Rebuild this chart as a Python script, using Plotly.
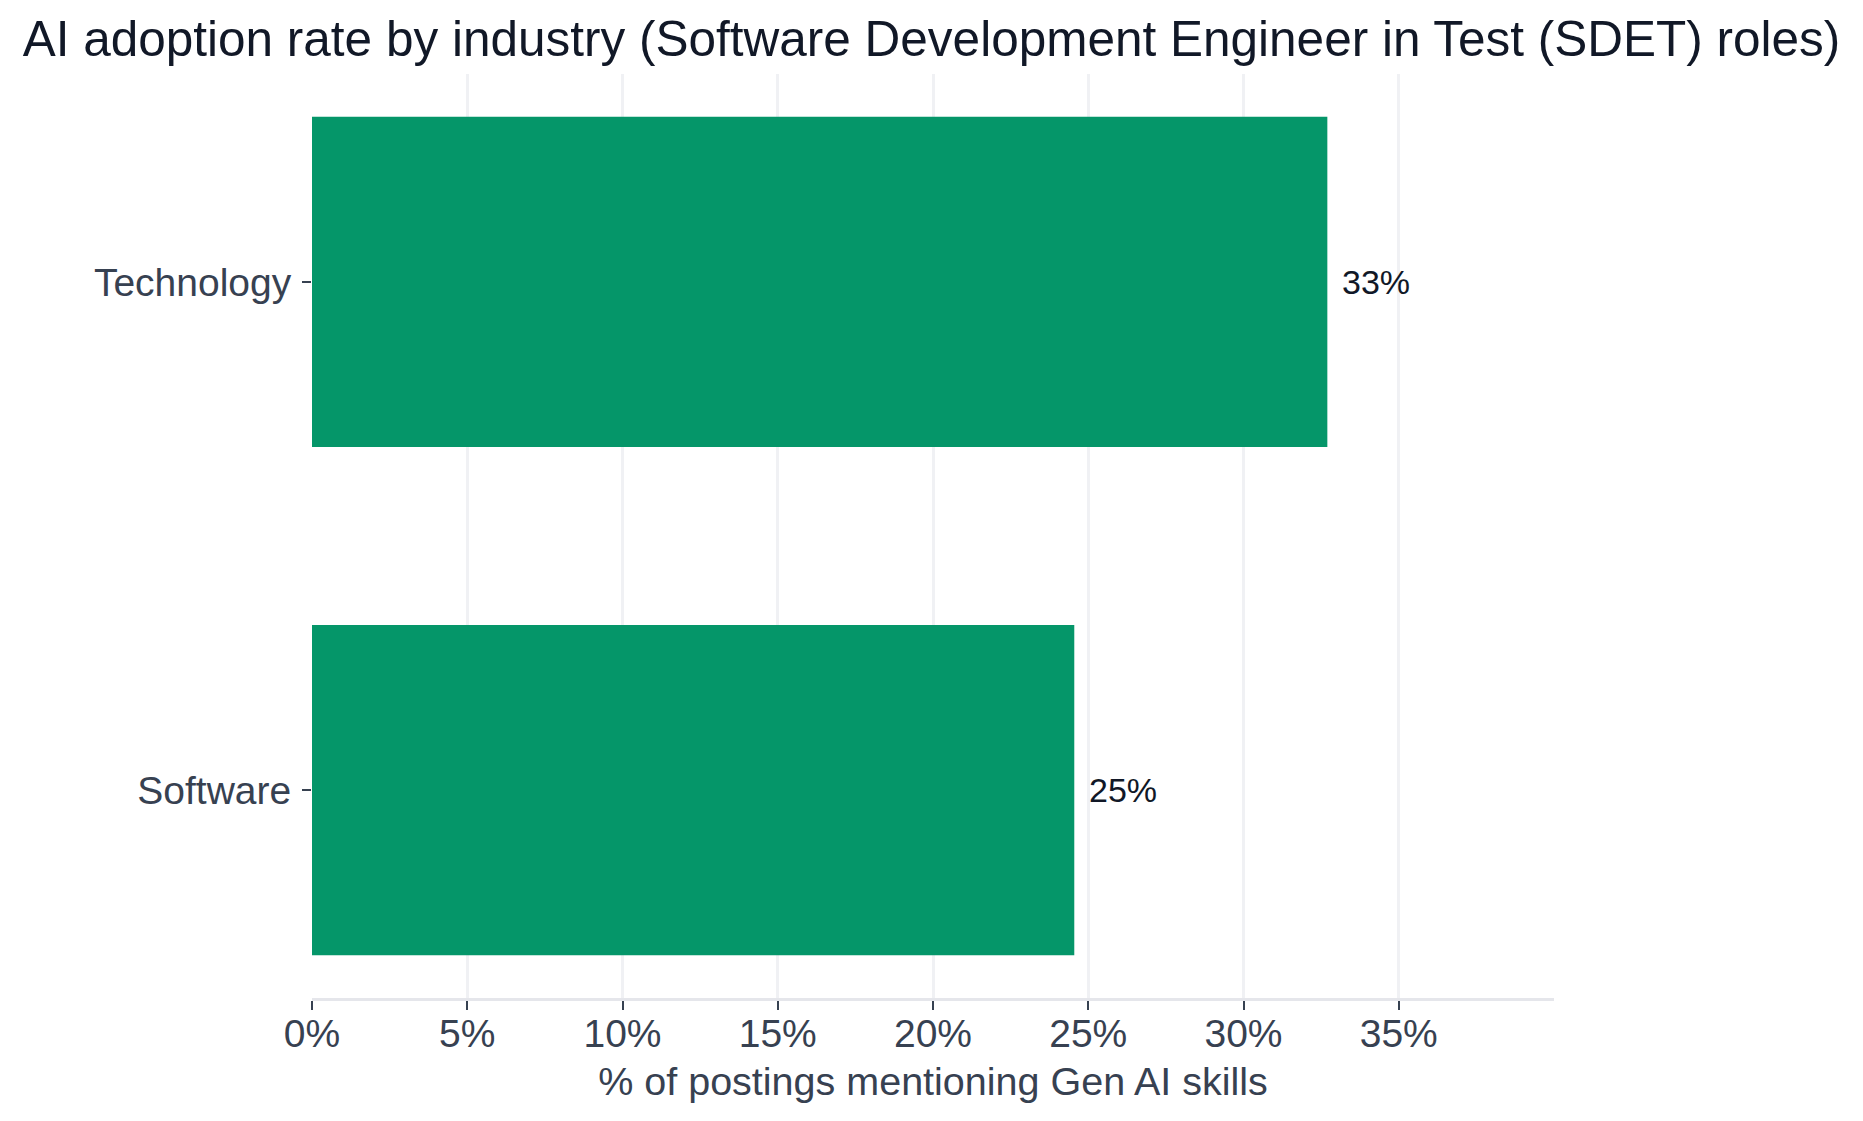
import plotly.graph_objects as go

# Data
industries = ["Software", "Technology"]
adoption_pct = [24.55, 32.7]
value_labels = ["25%", "33%"]
tick_values = [0, 5, 10, 15, 20, 25, 30, 35]
tick_labels = ["0%", "5%", "10%", "15%", "20%", "25%", "30%", "35%"]

FONT = "Liberation Sans, Arial, Helvetica, sans-serif"
BAR_COLOR = "#059669"

fig = go.Figure()
fig.add_trace(go.Bar(
    x=adoption_pct,
    y=industries,
    orientation="h",
    marker=dict(color=BAR_COLOR, line=dict(width=0)),
    hoverinfo="skip",
))

for v, lab, cat in zip(adoption_pct, value_labels, industries):
    fig.add_annotation(
        x=v, y=cat, xref="x", yref="y",
        text=lab, showarrow=False,
        xanchor="left", yanchor="middle", xshift=13,
        font=dict(family=FONT, size=34, color="#111827"),
    )

fig.update_layout(
    width=1863, height=1121,
    margin=dict(l=312, r=309, t=74, b=123),
    paper_bgcolor="white",
    plot_bgcolor="white",
    bargap=0.35,
    showlegend=False,
    title=dict(
        text="AI adoption rate by industry (Software Development Engineer in Test (SDET) roles)",
        x=0.5, xanchor="center", xref="container",
        y=0.981, yanchor="top", yref="container",
        font=dict(family=FONT, size=49.5, color="#111827"),
    ),
    xaxis=dict(
        range=[0, 40.0],
        tickvals=tick_values,
        ticktext=tick_labels,
        showgrid=True, gridcolor="#f0f1f4", gridwidth=2.5,
        zeroline=False,
        showline=True, linecolor="#e5e6eb", linewidth=3,
        ticks="outside", ticklen=9, tickwidth=2, tickcolor="#374151",
        ticklabelstandoff=-10,
        tickfont=dict(family=FONT, size=39, color="#374151"),
        title=dict(text="% of postings mentioning Gen AI skills",
                   font=dict(family=FONT, size=39.5, color="#374151"),
                   standoff=14),
    ),
    yaxis=dict(
        range=[-0.409, 1.409],
        showgrid=False, zeroline=False, showline=False,
        ticks="outside", ticklen=9, tickwidth=2, tickcolor="#374151",
        ticklabelstandoff=3,
        tickfont=dict(family=FONT, size=39, color="#374151"),
    ),
)

fig.write_html("out.html")
